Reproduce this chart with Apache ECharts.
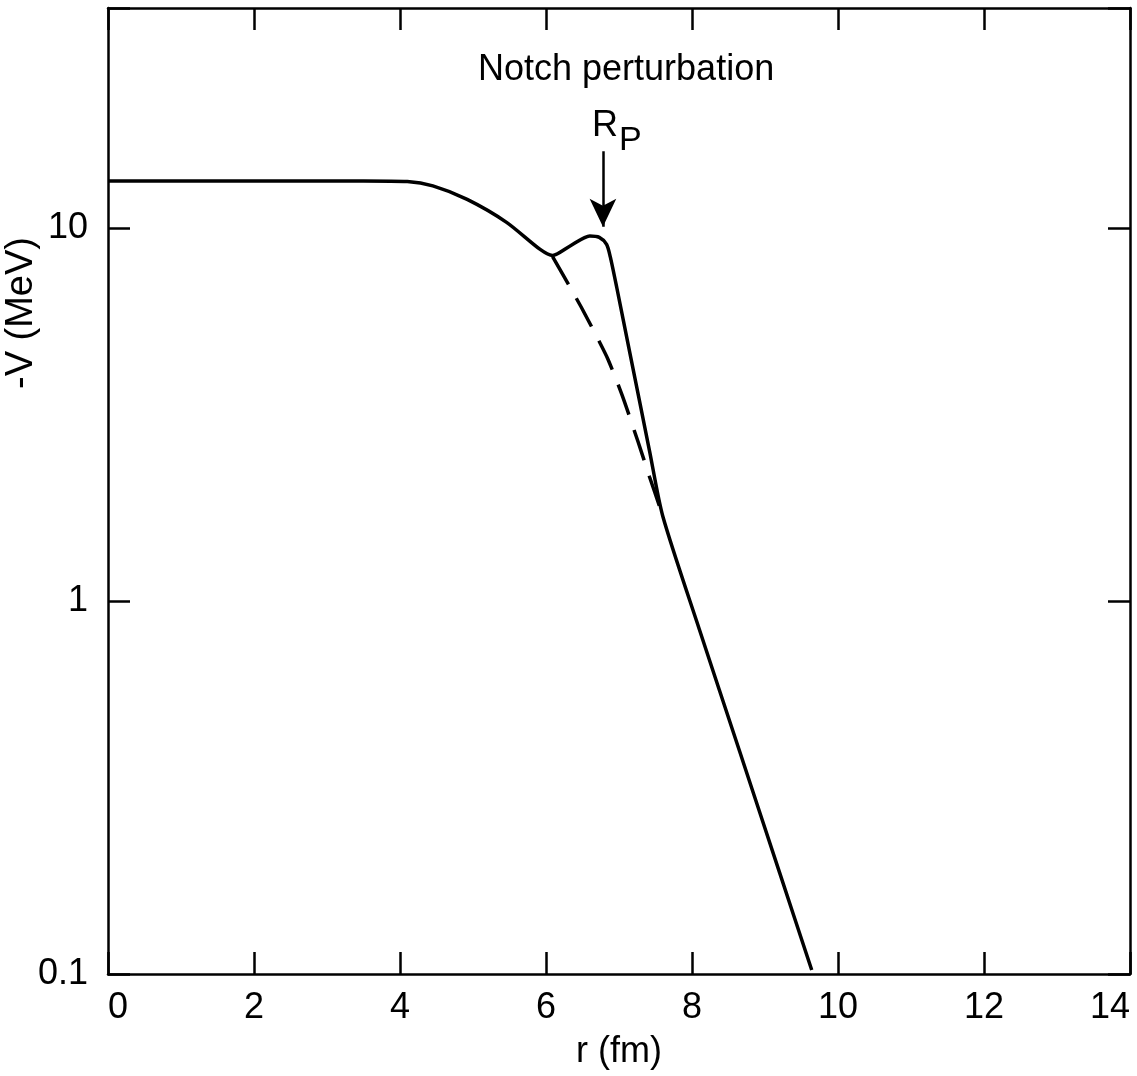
<!DOCTYPE html>
<html>
<head>
<meta charset="utf-8">
<title>Notch perturbation</title>
<script src="https://cdn.jsdelivr.net/npm/echarts@6/dist/echarts.min.js"></script>
<style>
  html, body { margin: 0; padding: 0; background: #fff; }
  #main { width: 1137px; height: 1076px; }
</style>
</head>
<body>
<div id="main"></div>
<script>
// 实线: 带 notch 的势 (r, -V)
var notchR = [0, 2, 3.5, 4.1, 4.45, 4.92, 5.46, 5.92, 6.09, 6.33, 6.6, 6.73, 6.83, 6.88, 6.97, 7.15, 7.42, 7.6, 8.1, 8.65, 9.2, 9.64];
var notchV = [13.4, 13.4, 13.4, 13.35, 13.0, 11.96, 10.38, 8.78, 8.46, 8.97, 9.54, 9.46, 9.06, 8.4, 6.93, 4.62, 2.52, 1.69, 0.841, 0.397, 0.187, 0.1025];
// 虚线: 未扰动的势
var plainR = [6.09, 6.37, 6.5, 6.73, 6.85, 7.04, 7.26, 7.42, 7.49, 7.6];
var plainV = [8.4, 6.73, 6.06, 4.97, 4.45, 3.58, 2.68, 2.15, 1.96, 1.69];
// 坐标轴
var xTicks = [0, 2, 4, 6, 8, 10, 12, 14];
var yDecades = [0.1, 1, 10];
// R_P 箭头
var arrowR = 6.78;
var arrowFrom = 16.1;
var arrowTo = 10.1;

var FONT = '"Liberation Sans", Arial, sans-serif';

function zip(a, b) {
  var out = [];
  for (var i = 0; i < a.length; i++) {
    out.push([a[i], b[i]]);
  }
  return out;
}

var chart = echarts.init(document.getElementById('main'));

// onZero 关掉, 否则两条 y 轴都贴在 x=0 上
var axisLine = { show: true, onZero: false, lineStyle: { color: '#000', width: 2.5 } };
var axisTick = { show: true, inside: true, length: 22, lineStyle: { color: '#000', width: 2.5 } };

var option = {
  backgroundColor: '#fff',
  animation: false,
  grid: { left: 108, right: 7, top: 8, bottom: 102 },
  graphic: [
    {
      type: 'text', x: 478, y: 70,
      style: { text: 'Notch perturbation', fontSize: 36, fontFamily: FONT, fill: '#000', align: 'left', verticalAlign: 'middle' }
    },
    {
      type: 'text', x: 592, y: 126,
      style: { text: 'R', fontSize: 36, fontFamily: FONT, fill: '#000', align: 'left', verticalAlign: 'middle' }
    },
    {
      type: 'text', x: 619, y: 141,
      style: { text: 'P', fontSize: 34, fontFamily: FONT, fill: '#000', align: 'left', verticalAlign: 'middle' }
    },
    {
      type: 'text', x: 22, y: 313, rotation: Math.PI / 2,
      style: { text: '-V (MeV)', fontSize: 38, fontFamily: FONT, fill: '#000', align: 'center', verticalAlign: 'middle' }
    }
  ],
  xAxis: [
    {
      type: 'value', position: 'bottom',
      min: xTicks[0], max: xTicks[xTicks.length - 1], interval: 2,
      name: 'r (fm)', nameLocation: 'middle', nameGap: 60,
      nameTextStyle: { fontSize: 36, fontFamily: FONT, color: '#000' },
      axisLine: axisLine, axisTick: axisTick,
      axisLabel: {
        fontSize: 36, fontFamily: FONT, color: '#000', margin: 16,
        alignMinLabel: 'left', alignMaxLabel: 'right'
      },
      splitLine: { show: false }
    },
    {
      type: 'value', position: 'top',
      min: xTicks[0], max: xTicks[xTicks.length - 1], interval: 2,
      axisLine: axisLine, axisTick: axisTick,
      axisLabel: { show: false },
      splitLine: { show: false }
    }
  ],
  yAxis: [
    {
      type: 'log', logBase: 10, position: 'left',
      min: yDecades[0], max: 39,
      axisLine: axisLine, axisTick: axisTick,
      axisLabel: {
        fontSize: 36, fontFamily: FONT, color: '#000', margin: 20,
        formatter: function (v) {
          for (var i = 0; i < yDecades.length; i++) {
            if (Math.abs(v - yDecades[i]) < yDecades[i] * 1e-6) {
              return String(yDecades[i]);
            }
          }
          return '';
        }
      },
      splitLine: { show: false }
    },
    {
      type: 'log', logBase: 10, position: 'right',
      min: yDecades[0], max: 39,
      axisLine: axisLine, axisTick: axisTick,
      axisLabel: { show: false },
      splitLine: { show: false }
    }
  ],
  series: [
    {
      name: 'notch',
      type: 'line',
      data: zip(notchR, notchV),
      showSymbol: false,
      smooth: 0.25,
      lineStyle: { color: '#000', width: 3.5 },
      markLine: {
        silent: true,
        animation: false,
        label: { show: false },
        lineStyle: { color: '#000', width: 2.5, type: 'solid' },
        data: [
          [
            { coord: [arrowR, arrowFrom], symbol: 'none' },
            { coord: [arrowR, arrowTo], symbol: 'arrow', symbolSize: [20, 28] }
          ]
        ]
      }
    },
    {
      name: 'plain',
      type: 'line',
      data: zip(plainR, plainV),
      showSymbol: false,
      smooth: 0.25,
      lineStyle: { color: '#000', width: 3.5, type: [32, 16] }
    }
  ]
};

chart.setOption(option);
</script>
</body>
</html>
